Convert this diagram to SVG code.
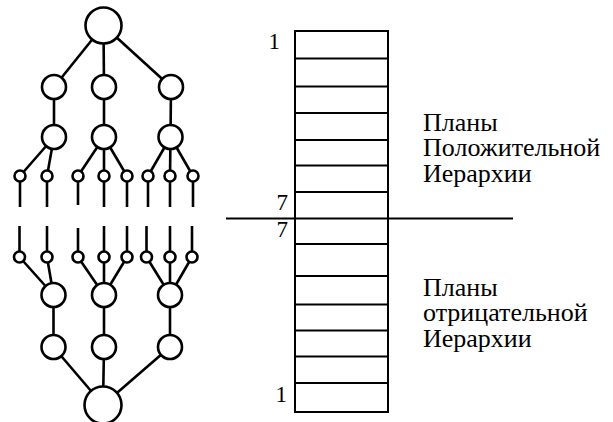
<svg xmlns="http://www.w3.org/2000/svg" width="613" height="422" viewBox="0 0 613 422">
<style>
.e{stroke:#000;stroke-width:2.6;fill:none;stroke-linecap:butt}
.n{stroke:#000;stroke-width:2.6;fill:#fff}
.r{stroke:#000;stroke-width:2;fill:none}
.t{font-family:"Liberation Serif","Times New Roman",serif;font-size:26px;fill:#000}
.d{font-family:"Liberation Serif","Times New Roman",serif;font-size:23px;fill:#000;text-anchor:end}
</style>
<rect width="613" height="422" fill="#fff"/>
<g id="connectors">
<line class="e" x1="103.5" y1="25.5" x2="54" y2="87"/>
<line class="e" x1="103.5" y1="25.5" x2="104" y2="87"/>
<line class="e" x1="103.5" y1="25.5" x2="171" y2="87"/>
<line class="e" x1="54" y1="87" x2="54" y2="137"/>
<line class="e" x1="104" y1="87" x2="104" y2="137"/>
<line class="e" x1="171" y1="87" x2="170.5" y2="137"/>
<line class="e" x1="54" y1="137" x2="20" y2="176"/>
<line class="e" x1="54" y1="137" x2="47" y2="176"/>
<line class="e" x1="104" y1="137" x2="78" y2="176"/>
<line class="e" x1="104" y1="137" x2="104" y2="176"/>
<line class="e" x1="104" y1="137" x2="127" y2="176"/>
<line class="e" x1="170.5" y1="137" x2="148" y2="176"/>
<line class="e" x1="170.5" y1="137" x2="170" y2="176"/>
<line class="e" x1="170.5" y1="137" x2="193" y2="176"/>
<line class="e" x1="20" y1="176" x2="20" y2="207"/>
<line class="e" x1="47" y1="176" x2="47" y2="207"/>
<line class="e" x1="78" y1="176" x2="78" y2="205"/>
<line class="e" x1="104" y1="176" x2="104" y2="207"/>
<line class="e" x1="127" y1="176" x2="127" y2="207"/>
<line class="e" x1="148" y1="176" x2="148" y2="207"/>
<line class="e" x1="170" y1="176" x2="170" y2="207"/>
<line class="e" x1="193" y1="176" x2="193" y2="207"/>
<line class="e" x1="19.5" y1="226" x2="19.5" y2="257"/>
<line class="e" x1="47" y1="226" x2="47" y2="257"/>
<line class="e" x1="78" y1="228" x2="78" y2="257"/>
<line class="e" x1="104" y1="226" x2="104" y2="257"/>
<line class="e" x1="127" y1="226" x2="127" y2="257"/>
<line class="e" x1="146.5" y1="226" x2="146.5" y2="257"/>
<line class="e" x1="170" y1="226" x2="170" y2="257"/>
<line class="e" x1="192" y1="226" x2="192" y2="257"/>
<line class="e" x1="19.5" y1="257" x2="53.5" y2="295"/>
<line class="e" x1="47" y1="257" x2="53.5" y2="295"/>
<line class="e" x1="78" y1="257" x2="104" y2="295"/>
<line class="e" x1="104" y1="257" x2="104" y2="295"/>
<line class="e" x1="127" y1="257" x2="104" y2="295"/>
<line class="e" x1="146.5" y1="257" x2="170" y2="295"/>
<line class="e" x1="170" y1="257" x2="170" y2="295"/>
<line class="e" x1="192" y1="257" x2="170" y2="295"/>
<line class="e" x1="53.5" y1="295" x2="53.5" y2="347"/>
<line class="e" x1="104" y1="295" x2="104" y2="347"/>
<line class="e" x1="170" y1="295" x2="170" y2="347"/>
<line class="e" x1="53.5" y1="347" x2="103" y2="405"/>
<line class="e" x1="104" y1="347" x2="103" y2="405"/>
<line class="e" x1="170" y1="347" x2="103" y2="405"/>
</g>
<g id="top"><circle class="n" cx="103.5" cy="25.5" r="18"/></g>
<g id="p2a"><circle class="n" cx="54" cy="87" r="12"/></g>
<g id="p2b"><circle class="n" cx="104" cy="87" r="12"/></g>
<g id="p2c"><circle class="n" cx="171" cy="87" r="12"/></g>
<g id="p3a"><circle class="n" cx="54" cy="137" r="12"/></g>
<g id="p3b"><circle class="n" cx="104" cy="137" r="12"/></g>
<g id="p3c"><circle class="n" cx="170.5" cy="137" r="12"/></g>
<g id="ps">
<circle class="n" cx="20" cy="176" r="5.5"/>
<circle class="n" cx="47" cy="176" r="5.5"/>
<circle class="n" cx="78" cy="176" r="5.5"/>
<circle class="n" cx="104" cy="176" r="5.5"/>
<circle class="n" cx="127" cy="176" r="5.5"/>
<circle class="n" cx="148" cy="176" r="5.5"/>
<circle class="n" cx="170" cy="176" r="5.5"/>
<circle class="n" cx="193" cy="176" r="5.5"/>
</g>
<g id="ns">
<circle class="n" cx="19.5" cy="257" r="5.5"/>
<circle class="n" cx="47" cy="257" r="5.5"/>
<circle class="n" cx="78" cy="257" r="5.5"/>
<circle class="n" cx="104" cy="257" r="5.5"/>
<circle class="n" cx="127" cy="257" r="5.5"/>
<circle class="n" cx="146.5" cy="257" r="5.5"/>
<circle class="n" cx="170" cy="257" r="5.5"/>
<circle class="n" cx="192" cy="257" r="5.5"/>
</g>
<g id="n3a"><circle class="n" cx="53.5" cy="295" r="12"/></g>
<g id="n3b"><circle class="n" cx="104" cy="295" r="12"/></g>
<g id="n3c"><circle class="n" cx="170" cy="295" r="12"/></g>
<g id="n2a"><circle class="n" cx="53.5" cy="347" r="12"/></g>
<g id="n2b"><circle class="n" cx="104" cy="347" r="12"/></g>
<g id="n2c"><circle class="n" cx="170" cy="347" r="12"/></g>
<g id="bottom"><circle class="n" cx="103" cy="405" r="18.5"/></g>
<g id="planes">
<rect class="r" x="295" y="31" width="93" height="381"/>
<line class="r" x1="295" y1="58.5" x2="388" y2="58.5"/>
<line class="r" x1="295" y1="86.5" x2="388" y2="86.5"/>
<line class="r" x1="295" y1="113" x2="388" y2="113"/>
<line class="r" x1="295" y1="140" x2="388" y2="140"/>
<line class="r" x1="295" y1="165.5" x2="388" y2="165.5"/>
<line class="r" x1="295" y1="192" x2="388" y2="192"/>
<line class="r" x1="226" y1="218.5" x2="513" y2="218.5"/>
<line class="r" x1="295" y1="244" x2="388" y2="244"/>
<line class="r" x1="295" y1="276" x2="388" y2="276"/>
<line class="r" x1="295" y1="304.5" x2="388" y2="304.5"/>
<line class="r" x1="295" y1="330.5" x2="388" y2="330.5"/>
<line class="r" x1="295" y1="356.5" x2="388" y2="356.5"/>
<line class="r" x1="295" y1="383" x2="388" y2="383"/>
<text class="d" x="280" y="49">1</text>
<text class="d" x="288" y="210">7</text>
<text class="d" x="288" y="237">7</text>
<text class="d" x="287" y="402">1</text>
</g>
<g id="labels">
<text class="t" x="423" y="131">Планы</text>
<text class="t" x="423" y="156">Положительной</text>
<text class="t" x="423" y="182">Иерархии</text>
<text class="t" x="423" y="296">Планы</text>
<text class="t" x="423" y="321">отрицательной</text>
<text class="t" x="423" y="347">Иерархии</text>
</g>
</svg>
